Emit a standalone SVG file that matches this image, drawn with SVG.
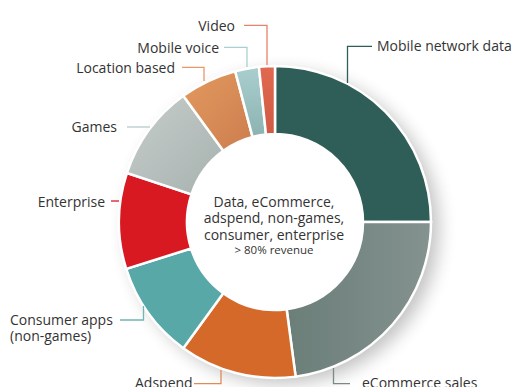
<svg xmlns="http://www.w3.org/2000/svg" width="518" height="387" viewBox="0 0 518 387">
<style>
  .lbl { font-family: "Open Sans", "Liberation Sans", sans-serif; font-size: 14px; fill: #333333; }
  .ctr { font-family: "Open Sans", "Liberation Sans", sans-serif; font-size: 14px; fill: #333333; text-anchor: middle; }
  .small { font-size: 11.5px; }
  .seg { stroke: #ffffff; stroke-width: 2.5; stroke-linejoin: miter; }
  .ld { fill: none; stroke-width: 1.3; }
</style>
<defs>
  <filter id="shadow" x="-30%" y="-30%" width="160%" height="160%">
    <feGaussianBlur stdDeviation="9"/>
  </filter>
  <linearGradient id="gEcom" x1="0" y1="0" x2="1" y2="0">
    <stop offset="0" stop-color="#6b7e78"/>
    <stop offset="1" stop-color="#849290"/>
  </linearGradient>
  <linearGradient id="gGames" x1="1" y1="1" x2="0" y2="0">
    <stop offset="0" stop-color="#a6b1ae"/>
    <stop offset="1" stop-color="#c7cecc"/>
  </linearGradient>
  <linearGradient id="gLoc" x1="0" y1="0" x2="1" y2="1">
    <stop offset="0" stop-color="#e3995f"/>
    <stop offset="1" stop-color="#cc7e4e"/>
  </linearGradient>
  <linearGradient id="gVoice" x1="0" y1="0" x2="0" y2="1">
    <stop offset="0" stop-color="#a9cecd"/>
    <stop offset="1" stop-color="#8cb3b2"/>
  </linearGradient>
  <linearGradient id="gVideo" x1="0" y1="0" x2="0" y2="1">
    <stop offset="0" stop-color="#e0694f"/>
    <stop offset="1" stop-color="#d05a44"/>
  </linearGradient>
</defs>

<circle cx="283" cy="228" r="156" fill="#000000" opacity="0.24" filter="url(#shadow)"/>
<circle cx="275" cy="222" r="88" fill="#ffffff"/>

<g id="ring">
  <g id="seg-mobile-network-data"><path class="seg" fill="#2e5e57" d="M275 66 A156 156 0 0 1 431 222 L363 222 A88 88 0 0 0 275 134 Z"/></g>
  <g id="seg-ecommerce-sales"><path class="seg" fill="url(#gEcom)" d="M431 222 A156 156 0 0 1 295.63 376.63 L286.64 309.23 A88 88 0 0 0 363 222 Z"/></g>
  <g id="seg-adspend"><path class="seg" fill="#d5692a" d="M295.63 376.63 A156 156 0 0 1 183.3 348.2 L223.27 293.19 A88 88 0 0 0 286.64 309.23 Z"/></g>
  <g id="seg-consumer-apps"><path class="seg" fill="#57a8a7" d="M183.3 348.2 A156 156 0 0 1 126.22 268.91 L191.07 248.46 A88 88 0 0 0 223.27 293.19 Z"/></g>
  <g id="seg-enterprise"><path class="seg" fill="#d81921" d="M126.22 268.91 A156 156 0 0 1 126.89 173.02 L191.45 194.37 A88 88 0 0 0 191.07 248.46 Z"/></g>
  <g id="seg-games"><path class="seg" fill="url(#gGames)" d="M126.89 173.02 A156 156 0 0 1 183.3 95.8 L223.27 150.81 A88 88 0 0 0 191.45 194.37 Z"/></g>
  <g id="seg-location-based"><path class="seg" fill="url(#gLoc)" d="M183.3 95.8 A156 156 0 0 1 235.15 71.18 L252.52 136.92 A88 88 0 0 0 223.27 150.81 Z"/></g>
  <g id="seg-mobile-voice"><path class="seg" fill="url(#gVoice)" d="M235.15 71.18 A156 156 0 0 1 258.96 66.83 L265.95 134.47 A88 88 0 0 0 252.52 136.92 Z"/></g>
  <g id="seg-video"><path class="seg" fill="url(#gVideo)" d="M258.96 66.83 A156 156 0 0 1 275 66 L275 134 A88 88 0 0 0 265.95 134.47 Z"/></g>
</g>

<g id="connectors">
  <path class="ld" stroke="#e8806a" d="M244 25.3 H267 V65"/>
  <path class="ld" stroke="#a9d0d0" d="M224 47.3 H247 V67"/>
  <path class="ld" stroke="#e69a6a" d="M182 67.3 H204 V81"/>
  <path class="ld" stroke="#2e5e57" d="M372 46.3 H347.5 V83"/>
  <path class="ld" stroke="#b9c9cc" d="M127 127 H150"/>
  <path class="ld" stroke="#d81921" d="M111 201 H119"/>
  <path class="ld" stroke="#6fb5b4" d="M120 320 H143.5 V306"/>
  <path class="ld" stroke="#e08a55" d="M194 383.7 H221 V370"/>
  <path class="ld" stroke="#7b8985" d="M350 383.7 H333.5 V368"/>
</g>

<g id="label-video"><text class="lbl" x="235" y="30.5" text-anchor="end">Video</text></g>
<g id="label-mobile-voice"><text class="lbl" x="219" y="52.5" text-anchor="end">Mobile voice</text></g>
<g id="label-location-based"><text class="lbl" x="175" y="72.5" text-anchor="end">Location based</text></g>
<g id="label-mobile-network-data"><text class="lbl" x="377" y="51">Mobile network data</text></g>
<g id="label-games"><text class="lbl" x="117" y="131.5" text-anchor="end">Games</text></g>
<g id="label-enterprise"><text class="lbl" x="105" y="206.5" text-anchor="end">Enterprise</text></g>
<g id="label-consumer-apps"><text class="lbl" x="10" y="324.5">Consumer apps</text><text class="lbl" x="10" y="341">(non-games)</text></g>
<g id="label-adspend"><text class="lbl" x="135" y="387.5">Adspend</text></g>
<g id="label-ecommerce-sales"><text class="lbl" x="362" y="387.5">eCommerce sales</text></g>

<g id="center-label">
  <text class="ctr" x="274" y="206.5">Data, eCommerce,</text>
  <text class="ctr" x="274" y="223">adspend, non-games,</text>
  <text class="ctr" x="274" y="239.5">consumer, enterprise</text>
  <text class="ctr small" x="274" y="253.5">&gt; 80% revenue</text>
</g>
</svg>
